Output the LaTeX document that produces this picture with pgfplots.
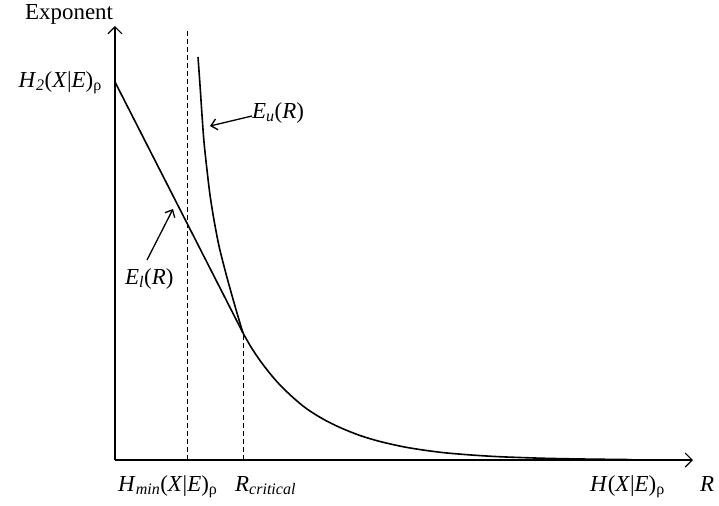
\documentclass[border=0pt]{standalone}
\usepackage{fontspec}
\setmainfont{Liberation Serif}
\usepackage{pgfplots}
\pgfplotsset{compat=1.18}
\usetikzlibrary{arrows.meta}

\newcommand{\ital}[1]{\textit{#1}}

\begin{document}
\begin{tikzpicture}
\fontsize{23}{27}\selectfont
\begin{axis}[
    x=1bp, y=1bp,
    anchor=origin, at={(0,0)},
    xmin=0, xmax=578,
    ymin=0, ymax=434,
    axis lines=left,
    axis line style={line width=1.1bp, -{Straight Barb[length=7bp,width=14bp,line width=1.1bp]}},
    xtick=\empty, ytick=\empty,
    clip=false,
  ]

  % lower bound: straight line up to R_critical
  \addplot[line width=1.6bp, black] coordinates {
    (0,378) (128,127)
  };

  % upper bound
  \addplot[line width=1.6bp, black, smooth] coordinates {
    (83,403) (85,375) (87,345) (89,318) (92,290) (95,265) (99,240)
    (104,214) (110,190) (116,168) (122,147) (128,127)
  };

  % common tail
  \addplot[line width=1.6bp, black, smooth] coordinates {
    (128,127) (136,113) (145,99.5) (155,86.5) (165,75) (178,62.5) (192,51)
    (208,41) (225,32.5) (245,24.5) (265,18.5) (288,13.3) (308,10) (330,7.2)
    (355,5.1) (380,3.5) (402,2.6) (430,1.7) (460,1.1) (490,0.7) (517,0.4)
  };

  % dashed markers
  \addplot[line width=0.9bp, black, dash pattern=on 5bp off 3bp] coordinates {
    (72,0) (72,431)
  };
  \addplot[line width=0.9bp, black, dash pattern=on 5bp off 3bp] coordinates {
    (128,0) (128,127)
  };

  % annotation arrows
  \draw[line width=1.3bp, -{Straight Barb[length=6bp,width=11bp,line width=1.3bp]}]
    (axis cs:137,344) -- (axis cs:95,334);
  \draw[line width=1.3bp, -{Straight Barb[length=6bp,width=11bp,line width=1.3bp]}]
    (axis cs:32,200) -- (axis cs:58,251);

  % labels
  \node[anchor=base west, inner sep=0pt] at (axis cs:-90,441) {Exponent};
  \node[anchor=base east, inner sep=0pt] at (axis cs:-13,373)
    {\ital{H}\textsubscript{\ital{2}}(\ital{X}|\ital{E})\textsubscript{ρ}};
  \node[anchor=base west, inner sep=0pt] at (axis cs:137,342)
    {\ital{E}\textsubscript{\ital{u}}(\ital{R})};
  \node[anchor=base west, inner sep=0pt] at (axis cs:10,176)
    {\ital{E}\textsubscript{\ital{l}}(\ital{R})};
  \node[anchor=base west, inner sep=0pt] at (axis cs:3,-31)
    {\ital{H}\textsubscript{\ital{min}}(\ital{X}|\ital{E})\textsubscript{ρ}};
  \node[anchor=base west, inner sep=0pt] at (axis cs:120,-31)
    {\ital{R}\textsubscript{\ital{critical}}};
  \node[anchor=base west, inner sep=0pt] at (axis cs:475,-31)
    {\ital{H}(\ital{X}|\ital{E})\textsubscript{ρ}};
  \node[anchor=base west, inner sep=0pt] at (axis cs:585,-31) {\ital{R}};
\end{axis}
\pgfresetboundingbox
\path (-115bp,-46bp) rectangle (604bp,460bp);
\end{tikzpicture}
\end{document}
